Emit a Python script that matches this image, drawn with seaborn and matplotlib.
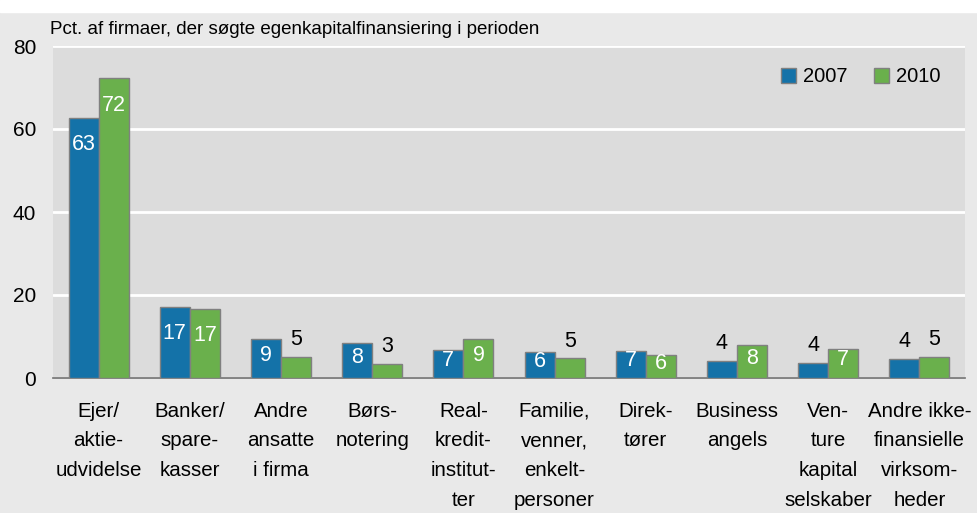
import seaborn as sns
import matplotlib.pyplot as plt
import pandas as pd
from matplotlib.patches import Rectangle

# Data
kategorier = ['Ejer/\naktie-\nudvidelse', 'Banker/\nspare-\nkasser', 'Andre\nansatte\ni firma',
              'Børs-\nnotering', 'Real-\nkredit-\ninstitut-\nter', 'Familie,\nvenner,\nenkelt-\npersoner',
              'Direk-\ntører', 'Business\nangels', 'Ven-\nture\nkapital\nselskaber',
              'Andre ikke-\nfinansielle\nvirksom-\nheder']
v2007 = [62.7, 17.2, 9.3, 8.5, 6.8, 6.2, 6.6, 4.1, 3.7, 4.5]
v2010 = [72.3, 16.7, 5.1, 3.4, 9.3, 4.7, 5.6, 8.0, 7.1, 5.0]
aar = ['2007', '2010']
yticks = [0, 20, 40, 60, 80]

df = pd.DataFrame({
    'kategori': kategorier * 2,
    'pct': v2007 + v2010,
    'aar': [aar[0]] * len(kategorier) + [aar[1]] * len(kategorier),
})

sns.set_style('white')
plt.rcParams['font.family'] = ['Liberation Sans', 'DejaVu Sans']
plt.rcParams['text.color'] = 'black'
plt.rcParams['xtick.color'] = 'black'
plt.rcParams['ytick.color'] = 'black'

blaa = '#1472a8'
groen = '#6ab04c'

fig = plt.figure(figsize=(9.78, 5.13), dpi=100, facecolor='#e9e9e9')
fig.patches.append(Rectangle((0, 1 - 12 / 513), 1, 12 / 513, transform=fig.transFigure,
                             color='white', zorder=0))
ax = fig.add_axes([53 / 978, 1 - 378 / 513, 912 / 978, 332 / 513])
ax.set_facecolor('#dcdcdc')

sns.barplot(data=df, x='kategori', y='pct', hue='aar', palette=[blaa, groen], saturation=1,
            width=0.66, gap=0, edgecolor='#808080', linewidth=1, ax=ax, zorder=3)

ax.set_ylim(0, 80)
ax.set_xlim(-0.5, len(kategorier) - 0.5)
ax.set_yticks(yticks)
ax.yaxis.grid(True, color='white', linewidth=2, zorder=0)
ax.set_axisbelow(True)
for side in ['top', 'right', 'left']:
    ax.spines[side].set_visible(False)
ax.spines['bottom'].set_color('#707070')
ax.spines['bottom'].set_linewidth(1.2)
ax.tick_params(axis='y', length=0, pad=12, labelsize=15)
ax.tick_params(axis='x', length=0, pad=17, labelsize=14.8)
for lbl in ax.get_xticklabels():
    lbl.set_linespacing(1.72)
ax.set_xlabel('')
ax.set_ylabel('')

# Værdier på søjlerne
for cont in ax.containers:
    for bar in cont:
        h = bar.get_height()
        x = bar.get_x() + bar.get_width() / 2
        tal = int(round(h))
        if tal >= 6:
            if h > 12:
                ax.annotate(str(tal), (x, h), xytext=(0, -12), textcoords='offset points',
                            ha='center', va='top', color='white', fontsize=15.5, zorder=4)
            else:
                ax.text(x, h / 2 + 0.8, str(tal), ha='center', va='center', color='white',
                        fontsize=15.5, zorder=4)
        else:
            ax.annotate(str(tal), (x, h), xytext=(0, 5), textcoords='offset points',
                        ha='center', va='bottom', color='black', fontsize=15.5, zorder=4)

ax.legend(title=None, frameon=False, loc='upper right', bbox_to_anchor=(0.993, 0.99),
          fontsize=14.5, ncol=2, handlelength=0.75, handleheight=0.75, columnspacing=1.3,
          handletextpad=0.35)

fig.text(50 / 978, 1 - 30 / 513, 'Pct. af firmaer, der søgte egenkapitalfinansiering i perioden',
         fontsize=13.5, va='center', ha='left')

fig.savefig('out.png', dpi=100, facecolor=fig.get_facecolor())
